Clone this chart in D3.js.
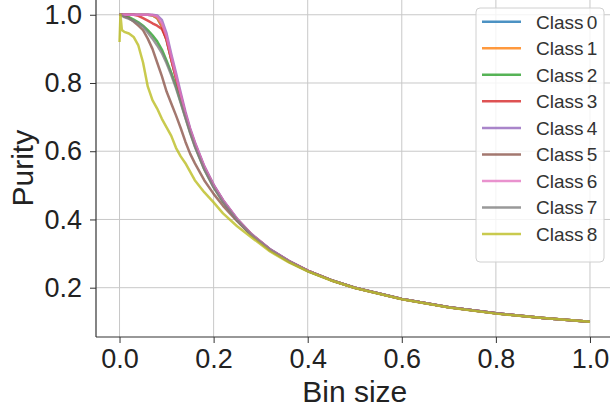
<!DOCTYPE html>
<html><head><meta charset="utf-8">
<script src="https://cdn.jsdelivr.net/npm/d3@7"></script>
<style>
body{margin:0;background:#fff;}
text{font-family:"Liberation Sans",Arial,sans-serif;}
</style></head>
<body><svg id="c" width="610" height="411"></svg>
<script>
const classes = ["Class 0","Class 1","Class 2","Class 3","Class 4","Class 5","Class 6","Class 7","Class 8"];
const colors = ["#1f77b4","#ff7f0e","#2ca02c","#d62728","#9467bd","#8c564b","#e377c2","#7f7f7f","#bcbd22"];
const xTicks = [0.0,0.2,0.4,0.6,0.8,1.0];
const yTicks = [0.2,0.4,0.6,0.8,1.0];
const binSize = [0,0.002,0.005,0.01,0.02,0.03,0.04,0.05,0.06,0.07,0.08,0.09,0.1,0.11,0.12,0.13,0.14,0.15,0.16,0.18,0.2,0.22,0.25,0.28,0.32,0.36,0.4,0.45,0.5,0.6,0.7,0.8,0.9,1.0];
const class0 = [1,1,1,1,1,1,1,1,1,0.998,0.99,0.965,0.925,0.868,0.815,0.762,0.708,0.662,0.622,0.553,0.499,0.455,0.4,0.356,0.312,0.278,0.25,0.222,0.2,0.167,0.143,0.125,0.111,0.1];
const class1 = [1,1,1,1,1,1,1,1,1,0.998,0.99,0.966,0.926,0.869,0.816,0.763,0.709,0.663,0.623,0.554,0.5,0.455,0.4,0.357,0.312,0.278,0.25,0.222,0.2,0.167,0.143,0.125,0.111,0.1];
const class2 = [1,1,1,0.998,0.993,0.986,0.978,0.968,0.955,0.94,0.922,0.898,0.865,0.83,0.79,0.745,0.7,0.656,0.616,0.548,0.495,0.452,0.399,0.355,0.311,0.277,0.249,0.222,0.2,0.167,0.143,0.125,0.111,0.1];
const class3 = [1,1,1,1,1,1,0.997,0.99,0.983,0.975,0.968,0.958,0.928,0.87,0.815,0.762,0.708,0.662,0.622,0.553,0.499,0.455,0.4,0.356,0.312,0.278,0.25,0.222,0.2,0.167,0.143,0.125,0.111,0.1];
const class4 = [1,1,1,1,1,1,1,1,1,1,0.998,0.985,0.945,0.885,0.83,0.772,0.716,0.668,0.627,0.557,0.502,0.457,0.402,0.358,0.313,0.279,0.25,0.222,0.2,0.167,0.143,0.125,0.111,0.1];
const class5 = [1,1,1,0.995,0.99,0.98,0.968,0.955,0.93,0.9,0.86,0.82,0.775,0.74,0.705,0.668,0.628,0.593,0.565,0.515,0.475,0.44,0.395,0.354,0.31,0.276,0.249,0.222,0.2,0.167,0.143,0.125,0.111,0.1];
const class6 = [1,1,1,1,1,1,1,1,1,0.999,0.995,0.975,0.935,0.876,0.82,0.766,0.711,0.665,0.625,0.555,0.5,0.456,0.401,0.357,0.312,0.278,0.25,0.222,0.2,0.167,0.143,0.125,0.111,0.1];
const class7 = [1,1,0.997,0.993,0.988,0.982,0.975,0.965,0.948,0.93,0.91,0.888,0.858,0.823,0.785,0.742,0.698,0.654,0.614,0.547,0.494,0.451,0.398,0.355,0.311,0.277,0.249,0.222,0.2,0.167,0.143,0.125,0.111,0.1];
const class8 = [0.92,1.0,0.955,0.95,0.945,0.935,0.91,0.86,0.79,0.75,0.725,0.695,0.67,0.645,0.61,0.585,0.565,0.54,0.515,0.48,0.45,0.418,0.38,0.348,0.306,0.274,0.248,0.221,0.199,0.166,0.142,0.124,0.111,0.1];
const purity = [class0,class1,class2,class3,class4,class5,class6,class7,class8];

const svg = d3.select("#c");
const L = 96, R = 613.5, T = -0.6, B = 337;
const x = d3.scaleLinear().domain([-0.05,1.05]).range([L,R]);
const y = d3.scaleLinear().domain([0.0555,1.045]).range([B,T]);

// grid
const g = svg.append("g");
g.selectAll(".vg").data(xTicks).enter().append("line")
  .attr("x1",d=>x(d)).attr("x2",d=>x(d)).attr("y1",T).attr("y2",B)
  .attr("stroke","#c8c8c8").attr("stroke-width",1);
g.selectAll(".hg").data(yTicks).enter().append("line")
  .attr("x1",L).attr("x2",R).attr("y1",d=>y(d)).attr("y2",d=>y(d))
  .attr("stroke","#c8c8c8").attr("stroke-width",1);

// lines
const line = d3.line().x((d,i)=>x(binSize[i])).y(d=>y(d));
purity.forEach((vals,k)=>{
  svg.append("path").datum(vals).attr("d",line)
    .attr("fill","none").attr("stroke",colors[k]).attr("stroke-opacity",0.8)
    .attr("stroke-width",2.5).attr("stroke-linejoin","round");
});

// axes
const xAxis = d3.axisBottom(x).tickValues(xTicks).tickFormat(d3.format(".1f")).tickSize(6).tickPadding(6);
const yAxis = d3.axisLeft(y).tickValues(yTicks).tickFormat(d3.format(".1f")).tickSize(6).tickPadding(8);
const gx = svg.append("g").attr("transform",`translate(0,${B})`).call(xAxis);
const gy = svg.append("g").attr("transform",`translate(${L},0)`).call(yAxis);
[gx,gy].forEach(a=>{
  a.select(".domain").remove();
  a.selectAll("line").attr("stroke","#333");
  a.selectAll("text").attr("font-size",27).attr("fill","#222").attr("font-family","Liberation Sans, Arial, sans-serif");
});
svg.append("line").attr("x1",L).attr("x2",L).attr("y1",0).attr("y2",B).attr("stroke","#333").attr("stroke-width",1.2);
svg.append("line").attr("x1",L).attr("x2",610).attr("y1",B).attr("y2",B).attr("stroke","#333").attr("stroke-width",1.2);

// axis labels
svg.append("text").attr("x",(L+R)/2).attr("y",402).attr("text-anchor","middle")
  .attr("font-size",30).attr("fill","#222").text("Bin size");
svg.append("text").attr("transform",`translate(33,${(B+T)/2}) rotate(-90)`).attr("text-anchor","middle")
  .attr("font-size",30).attr("fill","#222").text("Purity");

// legend
const lg = svg.append("g");
lg.append("rect").attr("x",476).attr("y",8).attr("width",128).attr("height",254).attr("rx",4)
  .attr("fill","#fff").attr("fill-opacity",0.8).attr("stroke","#d0d0d0").attr("stroke-width",1);
classes.forEach((c,i)=>{
  const yy = 21.7 + i*26.55;
  lg.append("line").attr("x1",482).attr("x2",521).attr("y1",yy).attr("y2",yy)
    .attr("stroke",colors[i]).attr("stroke-opacity",0.8).attr("stroke-width",2.5);
  lg.append("text").attr("x",536).attr("y",yy+6.8).attr("font-size",19).attr("fill","#333")
    .attr("word-spacing","-2px").text(c);
});
</script></body></html>
